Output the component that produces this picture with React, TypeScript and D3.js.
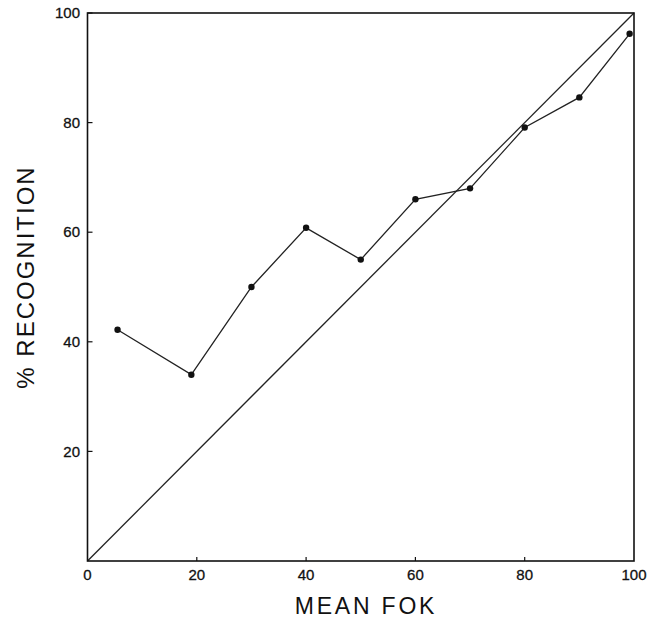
import React from "react";
import * as d3 from "d3";

const meanFok = [5.5, 19, 30, 40, 50, 60, 70, 80, 90, 99.2];
const recognition = [42.2, 34, 50, 60.8, 55, 66, 68, 79.1, 84.6, 96.2];
const xTicks = [0, 20, 40, 60, 80, 100];
const yTicks = [20, 40, 60, 80, 100];
const diagonal = [0, 100];

export default function App() {
  const W = 660, H = 622;
  const x = d3.scaleLinear().domain([0, 100]).range([87.5, 634]);
  const y = d3.scaleLinear().domain([0, 100]).range([561, 13]);
  const pts = meanFok.map((v, i) => [v, recognition[i]] as [number, number]);
  const line = d3.line<[number, number]>().x(d => x(d[0])).y(d => y(d[1]));
  const font = "'Liberation Sans', Arial, Helvetica, sans-serif";
  return (
    <svg width={W} height={H} style={{ position: "absolute", left: 0, top: 0, background: "#fff" }}>
      <rect x={0} y={0} width={W} height={H} fill="#fff" />
      <line x1={x(diagonal[0])} y1={y(diagonal[0])} x2={x(diagonal[1])} y2={y(diagonal[1])} stroke="#222" strokeWidth={1.3} />
      <path d={line(pts) || ""} fill="none" stroke="#222" strokeWidth={1.3} />
      {pts.map((p, i) => (
        <circle key={i} cx={x(p[0])} cy={y(p[1])} r={3.2} fill="#111" />
      ))}
      <rect x={x(0)} y={y(100)} width={x(100) - x(0)} height={y(0) - y(100)} fill="none" stroke="#111" strokeWidth={1.6} />
      {yTicks.map(t => (
        <g key={"y" + t}>
          <line x1={x(0)} x2={x(0) + 5} y1={y(t)} y2={y(t)} stroke="#111" strokeWidth={1.2} />
          <text x={80} y={y(t)} dy="0.35em" textAnchor="end" fontFamily={font} fontSize={15} fill="#111" stroke="#111" strokeWidth={0.3}>{t}</text>
        </g>
      ))}
      {xTicks.map(t => (
        <g key={"x" + t}>
          {t > 0 && t < 100 && <line x1={x(t)} x2={x(t)} y1={y(0)} y2={y(0) - 4} stroke="#111" strokeWidth={1.2} />}
          <text x={x(t)} y={580} textAnchor="middle" fontFamily={font} fontSize={15} fill="#111" stroke="#111" strokeWidth={0.3}>{t}</text>
        </g>
      ))}
      <text x={366} y={614} textAnchor="middle" fontFamily={font} fontSize={23} letterSpacing={2.8} fill="#111">MEAN FOK</text>
      <text transform="translate(34,277) rotate(-90)" textAnchor="middle" fontFamily={font} fontSize={24} letterSpacing={2} fill="#111">% RECOGNITION</text>
    </svg>
  );
}
